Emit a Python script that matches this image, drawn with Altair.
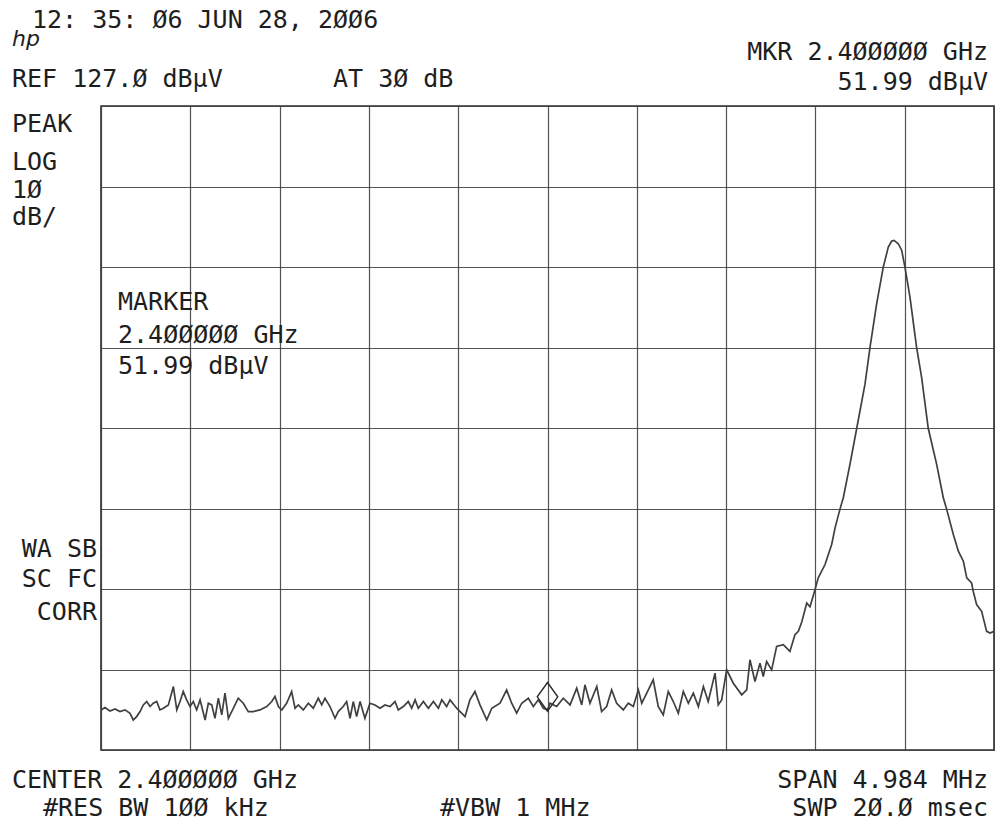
import altair as alt
import pandas as pd

# Analyzer settings
CENTER_MHZ = 2400.0
SPAN_MHZ = 4.984
REF_DBUV = 127.0
DB_PER_DIV = 10
N_XDIV = 10
N_YDIV = 8

# Trace: frequency offset from centre (MHz) and level (dBuV)
offset_mhz = [
    -2.492, -2.470, -2.442, -2.414, -2.386, -2.358, -2.330, -2.312, -2.293, -2.274,
    -2.256, -2.237, -2.218, -2.200, -2.181, -2.163, -2.144, -2.116, -2.088, -2.069,
    -2.051, -2.033, -2.014, -1.995, -1.977, -1.958, -1.939, -1.911, -1.893, -1.874,
    -1.856, -1.837, -1.818, -1.800, -1.781, -1.753, -1.726, -1.698, -1.670, -1.642,
    -1.605, -1.567, -1.539, -1.521, -1.502, -1.483, -1.456, -1.428, -1.409, -1.391,
    -1.363, -1.335, -1.307, -1.279, -1.260, -1.242, -1.214, -1.186, -1.168, -1.140,
    -1.121, -1.102, -1.084, -1.065, -1.046, -1.019, -0.991, -0.963, -0.935, -0.907,
    -0.879, -0.851, -0.833, -0.805, -0.777, -0.758, -0.739, -0.721, -0.693, -0.665,
    -0.637, -0.609, -0.590, -0.563, -0.544, -0.507, -0.460, -0.433, -0.405, -0.377,
    -0.339, -0.311, -0.265, -0.228, -0.200, -0.172, -0.144, -0.107, -0.079, -0.051,
    -0.023, 0.000, 0.014, 0.051, 0.088, 0.126, 0.163, 0.191, 0.209, 0.237,
    0.275, 0.302, 0.330, 0.358, 0.386, 0.423, 0.451, 0.479, 0.507, 0.526,
    0.554, 0.590, 0.618, 0.646, 0.674, 0.702, 0.730, 0.758, 0.786, 0.814,
    0.842, 0.870, 0.897, 0.935, 0.953, 0.972, 1.000, 1.037, 1.084, 1.112,
    1.130, 1.158, 1.186, 1.204, 1.223, 1.251, 1.279, 1.316, 1.353, 1.381,
    1.400, 1.419, 1.447, 1.465, 1.493, 1.511, 1.549, 1.586, 1.605, 1.632,
    1.651, 1.688, 1.726, 1.772, 1.800, 1.837, 1.874, 1.902, 1.921, 1.934,
    1.958, 1.977, 1.995, 2.023, 2.060, 2.088, 2.125, 2.172, 2.209, 2.228,
    2.265, 2.293, 2.321, 2.340, 2.367, 2.376, 2.395, 2.423, 2.451, 2.470,
    2.492,
]
level_dbuv = [
    51.98, 52.27, 51.85, 52.10, 51.77, 51.98, 51.56, 50.73, 51.15, 51.77,
    52.60, 53.02, 52.40, 52.81, 53.02, 51.98, 52.19, 52.60, 54.88, 51.98,
    53.02, 54.26, 53.23, 52.40, 53.02, 51.98, 53.23, 50.73, 52.81, 52.60,
    50.94, 53.43, 51.36, 54.06, 50.94, 52.19, 53.43, 52.81, 51.77, 51.77,
    51.98, 52.40, 53.02, 53.64, 52.40, 51.98, 52.81, 54.26, 52.19, 52.60,
    51.98, 52.81, 52.19, 53.43, 52.60, 53.43, 52.40, 50.94, 51.77, 52.40,
    53.02, 50.94, 53.02, 51.15, 53.02, 50.94, 52.81, 52.60, 52.19, 52.60,
    52.40, 53.02, 51.98, 52.40, 53.02, 52.19, 53.23, 52.19, 53.02, 52.19,
    53.02, 52.19, 53.23, 52.40, 53.23, 52.19, 51.15, 53.23, 54.27, 52.60,
    50.74, 52.19, 52.81, 54.47, 52.81, 51.57, 52.81, 53.43, 52.40, 53.23,
    52.19, 51.99, 52.81, 52.40, 53.43, 52.60, 54.68, 52.60, 55.10, 52.81,
    54.89, 51.77, 52.40, 54.47, 52.81, 51.98, 52.81, 52.40, 54.47, 52.81,
    54.06, 55.72, 52.40, 51.36, 54.27, 53.02, 51.57, 54.27, 52.81, 54.06,
    52.40, 54.89, 53.02, 56.55, 52.60, 53.23, 56.96, 55.30, 53.85, 54.47,
    58.21, 55.51, 57.79, 56.13, 58.00, 56.96, 59.87, 60.08, 59.25, 61.32,
    61.74, 62.90, 65.26, 64.80, 66.92, 68.38, 70.04, 72.53, 74.60, 76.89,
    78.34, 82.49, 86.97, 92.45, 97.02, 102.42, 106.98, 109.47, 110.22, 110.30,
    109.89, 109.06, 106.98, 103.25, 97.02, 93.28, 86.97, 82.49, 78.34, 76.89,
    73.77, 71.70, 70.45, 68.38, 67.75, 66.72, 65.06, 64.23, 61.74, 61.53,
    61.74,
]

# Marker readout
marker_offset_mhz = [0.0]
marker_level_dbuv = [51.99]

# Layout (pixels)
PLOT_LEFT, PLOT_TOP = 101, 106
PLOT_W, PLOT_H = 893, 644
FONT = "DejaVu Sans Mono"
FS = 25
INK = "#1e1e1e"

f_start = CENTER_MHZ - SPAN_MHZ / 2
f_stop = CENTER_MHZ + SPAN_MHZ / 2
bottom_dbuv = REF_DBUV - DB_PER_DIV * N_YDIV

trace_df = pd.DataFrame({
    "freq": [CENTER_MHZ + o for o in offset_mhz],
    "level": level_dbuv,
})
marker_df = pd.DataFrame({
    "freq": [CENTER_MHZ + o for o in marker_offset_mhz],
    "level": marker_level_dbuv,
})

x_grid = [f_start + i * SPAN_MHZ / N_XDIV for i in range(N_XDIV + 1)]
y_grid = [bottom_dbuv + i * DB_PER_DIV for i in range(N_YDIV + 1)]

x_scale = alt.Scale(domain=[f_start, f_stop], nice=False, zero=False)
y_scale = alt.Scale(domain=[bottom_dbuv, REF_DBUV], nice=False, zero=False)

grid_axis = dict(labels=False, ticks=False, domain=False, title=None, grid=True,
                 gridColor="#404040", gridWidth=1.2, gridOpacity=0.9)

trace = alt.Chart(trace_df).mark_line(
    color="#404040", strokeWidth=1.7, clip=True, interpolate="linear"
).encode(
    x=alt.X("freq:Q", scale=x_scale, axis=alt.Axis(values=x_grid, **grid_axis)),
    y=alt.Y("level:Q", scale=y_scale, axis=alt.Axis(values=y_grid, **grid_axis)),
)

# Marker diamond sits just above the trace point it reads
marker = alt.Chart(marker_df).mark_point(
    shape="M0,-1.4L1,0L0,1.4L-1,0Z", size=420, filled=False,
    stroke="#2a2a2a", strokeWidth=1.4, opacity=1, yOffset=-13,
).encode(
    x=alt.X("freq:Q", scale=x_scale),
    y=alt.Y("level:Q", scale=y_scale),
)

one_row = pd.DataFrame({"k": [0]})


def label(text, x, y, align="left", size=FS, font=FONT, style="normal"):
    return alt.Chart(one_row).mark_text(
        text=text, align=align, baseline="alphabetic", font=font,
        fontSize=size, fontStyle=style, color=INK,
    ).encode(x=alt.value(x - PLOT_LEFT), y=alt.value(y - PLOT_TOP))


labels = [
    label("hp", 12, 46, size=22, font="DejaVu Sans", style="italic"),
    label("12: 35: Ø6 JUN 28,  2ØØ6", 32, 28),
    label("REF 127.Ø dBµV", 12, 87),
    label("AT 3Ø dB", 333, 87),
    label("MKR 2.4ØØØØØ GHz", 988, 60, align="right"),
    label("51.99 dBµV", 988, 90, align="right"),
    label("PEAK", 12, 132),
    label("LOG", 12, 170),
    label("1Ø", 12, 198),
    label("dB/", 12, 225),
    label("MARKER", 118, 310),
    label("2.4ØØØØØ GHz", 118, 343),
    label("51.99 dBµV", 118, 374),
    label("WA SB", 97, 557, align="right"),
    label("SC FC", 97, 587, align="right"),
    label("CORR", 97, 620, align="right"),
    label("CENTER 2.4ØØØØØ GHz", 12, 788),
    label("#RES BW 1ØØ kHz", 43, 816),
    label("#VBW 1 MHz", 440, 816),
    label("SPAN 4.984 MHz", 988, 788, align="right"),
    label("SWP 2Ø.Ø msec", 988, 816, align="right"),
]

chart = alt.layer(trace, marker, *labels).properties(
    width=PLOT_W,
    height=PLOT_H,
    padding={"left": PLOT_LEFT, "top": PLOT_TOP, "right": 1, "bottom": 77},
    autosize=alt.AutoSizeParams(type="none"),
    background="white",
).configure_view(
    stroke="#2e2e2e", strokeWidth=1.6
)

chart.save("out.html", embed_options={"renderer": "svg", "actions": False})
